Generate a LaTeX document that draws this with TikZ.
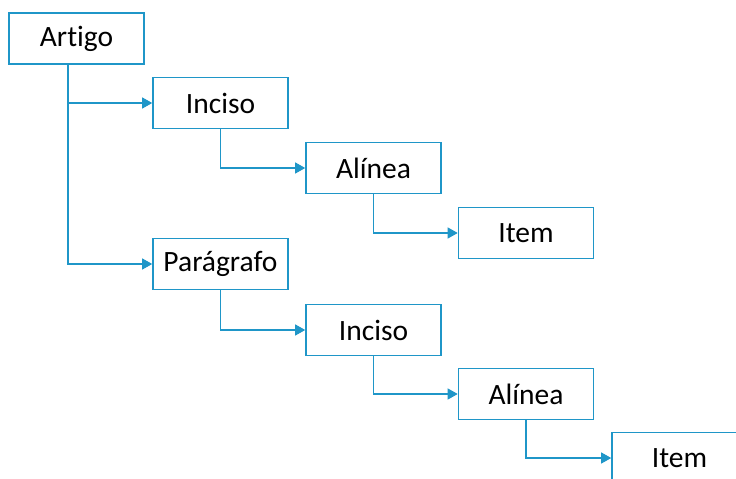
\documentclass[tikz,border=0pt]{standalone}
\usepackage{fontspec}
\setmainfont[Ligatures=NoCommon]{Carlito}
\usetikzlibrary{arrows.meta}
\definecolor{boxblue}{RGB}{31,150,200}
\tikzset{
  x=1pt, y=-1pt,
  lvlbox/.style={draw=boxblue, line width=1.6pt, minimum width=135pt, minimum height=51pt, inner sep=0pt, fill=white, font=\fontsize{29.5}{32}\selectfont, text=black},
  conn/.style={draw=boxblue, line width=1.1pt, -{Triangle[length=10pt,width=11pt]}}
}
\begin{document}
\begin{tikzpicture}
\clip (0,0) rectangle (736,479);
\fill[white] (0,0) rectangle (736,479);
\node[lvlbox] (artigo) at (76.5,38.5) {Artigo};
\node[lvlbox] (inc1) at (220.5,103) {Inciso};
\node[lvlbox] (ali1) at (373.5,168) {Alínea};
\node[lvlbox] (item1) at (526,233) {Item};
\node[lvlbox] (par) at (220.5,264) {Parágrafo};
\node[lvlbox] (inc2) at (373.5,330) {Inciso};
\node[lvlbox] (ali2) at (526,394) {Alínea};
\node[lvlbox] (item2) at (679.5,458) {Item};
\coordinate (atrunk) at (68,64);
\draw[conn] (atrunk) |- (inc1.west);
\draw[conn] (atrunk) |- (par.west);
\draw[conn] (inc1.south) |- (ali1.west);
\draw[conn] (ali1.south) |- (item1.west);
\draw[conn] (par.south) |- (inc2.west);
\draw[conn] (inc2.south) |- (ali2.west);
\draw[conn] (ali2.south) |- (item2.west);
\end{tikzpicture}
\end{document}
